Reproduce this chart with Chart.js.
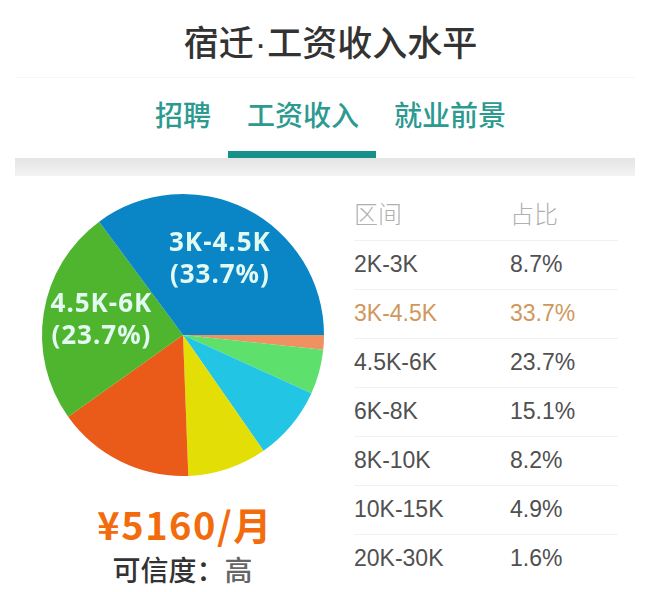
<!DOCTYPE html>
<html lang="zh">
<head>
<meta charset="utf-8">
<title>宿迁·工资收入水平</title>
<script src="https://cdn.jsdelivr.net/npm/chart.js@4"></script>
<style>
  html, body { margin: 0; padding: 0; background: #fff; }
  body { position: relative; width: 652px; height: 592px; overflow: hidden; font-family: "Noto Sans CJK SC", "Noto Sans", sans-serif; }
  .abs { position: absolute; white-space: nowrap; line-height: 1; }
  #title { left: 0; width: 661px; top: 23px; text-align: center; font-size: 35px; font-weight: 500; color: #333; }
  #title i { font-style: normal; font-family: "Liberation Sans"; padding: 0 1px; }
  #topLine { position: absolute; left: 15px; width: 620px; top: 77px; height: 1px; background: #f6f6f6; }
  .tab { top: 100px; font-size: 28px; font-weight: 500; color: #2c9a90; }
  #tabBar { position: absolute; left: 228px; width: 148px; top: 151px; height: 7px; background: #17908a; }
  #band { position: absolute; left: 15px; width: 620px; top: 158px; height: 18px; background: linear-gradient(#e4e4e4, #f4f3f4); }
  #pieWrap { position: absolute; left: 33px; top: 185px; width: 300px; height: 300px; }
  #salary { position: absolute; left: 354px; top: 190px; border-collapse: collapse; }
  #salary td, #salary th { padding: 0 0 2px 0; height: 46px; font-family: "Liberation Sans", sans-serif; font-size: 23px; font-weight: 400; color: #505050; text-align: left; border-bottom: 1px solid #f1f1f1; }
  #salary td:first-child, #salary th:first-child { width: 156px; }
  #salary td:last-child, #salary th:last-child { width: 108px; }
  #salary tr:last-child td { border-bottom: 0; }
  #salary th { height: 44px; padding-bottom: 6px; font-family: "Noto Sans CJK SC"; font-size: 24px; font-weight: 300; color: #b0b0b0; }
  #salary tr.hot td { color: #d0975c; }
  #price { left: 60px; width: 250px; top: 505px; text-align: center; font-size: 38px; letter-spacing: 1.5px; font-weight: 700; color: #f26c0d; }
  #trust { left: 60px; width: 245px; top: 555px; text-align: center; font-size: 28px; font-weight: 500; color: #333; }
  #trust span { color: #666; }
</style>
</head>
<body>
<div class="abs" id="title">宿迁<i>·</i>工资收入水平</div>
<div id="topLine"></div>
<div class="abs tab" style="left:155px">招聘</div>
<div class="abs tab" style="left:247px">工资收入</div>
<div class="abs tab" style="left:394px">就业前景</div>
<div id="band"></div>
<div id="tabBar"></div>
<div id="pieWrap"><canvas id="pie" width="300" height="300"></canvas></div>
<table id="salary"></table>
<div class="abs" id="price">¥5160/月</div>
<div class="abs" id="trust">可信度：<span>高</span></div>

<script>
const categories = ['2K-3K', '3K-4.5K', '4.5K-6K', '6K-8K', '8K-10K', '10K-15K', '20K-30K'];
const shares = [8.7, 33.7, 23.7, 15.1, 8.2, 4.9, 1.6];
const sliceColors = ['#e2de06', '#0a85c6', '#50b52e', '#ea5a19', '#23c5e5', '#5de06c', '#ef9160'];
const tableHeaders = ['区间', '占比'];
const highlighted = '3K-4.5K';
const labelled = ['3K-4.5K', '4.5K-6K'];

// table on the right keeps the source order
const table = document.getElementById('salary');
table.innerHTML = '<tr><th>' + tableHeaders[0] + '</th><th>' + tableHeaders[1] + '</th></tr>' +
  categories.map((c, i) =>
    '<tr' + (c === highlighted ? ' class="hot"' : '') + '><td>' + c + '</td><td>' + shares[i] + '%</td></tr>'
  ).join('');

// pie runs clockwise from 3 o'clock, smallest slice first
const order = categories.map((c, i) => i).sort((a, b) => shares[a] - shares[b]);

const sliceLabels = {
  id: 'sliceLabels',
  afterDatasetsDraw(chart, args, opts) {
    const { ctx } = chart;
    const meta = chart.getDatasetMeta(0);
    ctx.save();
    ctx.fillStyle = opts.color;
    ctx.font = opts.font;
    ctx.letterSpacing = opts.spacing;
    ctx.textAlign = 'center';
    ctx.textBaseline = 'middle';
    meta.data.forEach((arc, i) => {
      const name = chart.data.labels[i];
      if (!labelled.includes(name)) return;
      const place = opts.place[name];
      const mid = (arc.startAngle + arc.endAngle) / 2 + place.turn;
      const r = arc.outerRadius * place.dist;
      const x = arc.x + Math.cos(mid) * r;
      const y = arc.y + Math.sin(mid) * r;
      ctx.fillText(name, x, y - opts.lineGap / 2);
      ctx.fillText('(' + chart.data.datasets[0].data[i] + '%)', x, y + opts.lineGap / 2);
    });
    ctx.restore();
  }
};

new Chart(document.getElementById('pie').getContext('2d'), {
  type: 'pie',
  data: {
    labels: order.map(i => categories[i]),
    datasets: [{
      data: order.map(i => shares[i]),
      backgroundColor: order.map(i => sliceColors[i]),
      borderWidth: 0
    }]
  },
  options: {
    responsive: false,
    animation: false,
    rotation: 90,
    layout: { padding: 9 },
    plugins: {
      legend: { display: false },
      tooltip: { enabled: false },
      sliceLabels: {
        color: '#e2faf2',
        font: '700 26px "Noto Sans"',
        spacing: '1px',
        lineGap: 32,
        place: {
          '3K-4.5K': { turn: -0.01, dist: 0.593 },
          '4.5K-6K': { turn: 0.012, dist: 0.587 }
        }
      }
    }
  },
  plugins: [sliceLabels]
});
</script>
</body>
</html>
